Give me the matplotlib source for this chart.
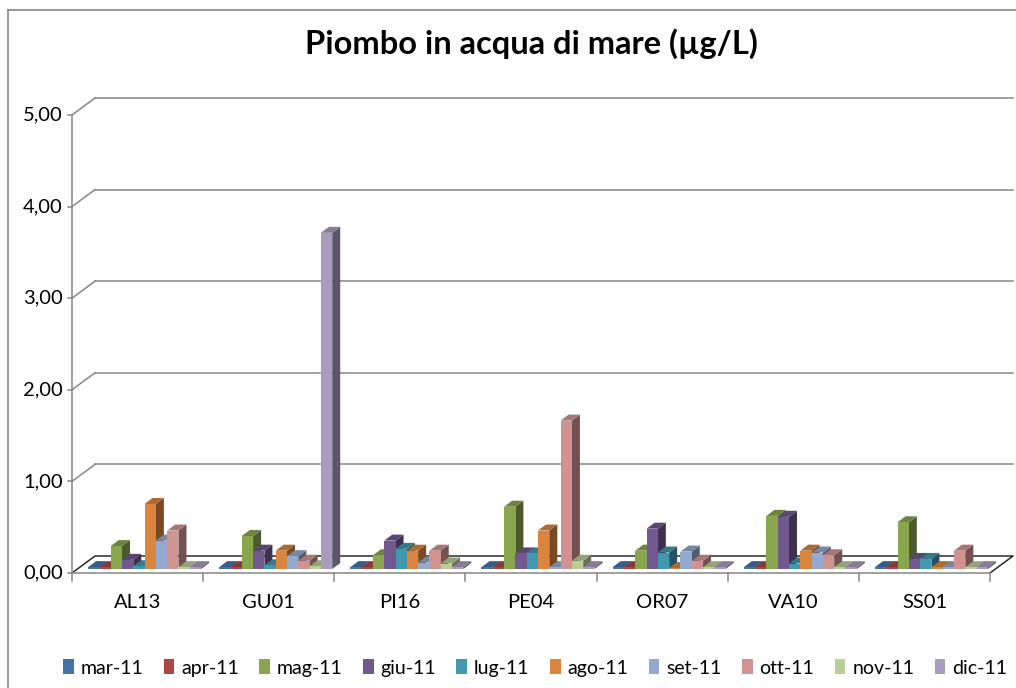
import matplotlib
matplotlib.use("Agg")
import matplotlib.pyplot as plt
from matplotlib.patches import Polygon, Patch
import numpy as np

plt.rcParams['font.family'] = ['Lato', 'DejaVu Sans']

# ---------------- data ----------------
stations = ['AL13', 'GU01', 'PI16', 'PE04', 'OR07', 'VA10', 'SS01']
months = ['mar-11', 'apr-11', 'mag-11', 'giu-11', 'lug-11',
          'ago-11', 'set-11', 'ott-11', 'nov-11', 'dic-11']
mar_11 = [0.02, 0.02, 0.02, 0.02, 0.02, 0.02, 0.02]
apr_11 = [0.02, 0.02, 0.02, 0.02, 0.02, 0.02, 0.02]
mag_11 = [0.25, 0.36, 0.15, 0.68, 0.20, 0.58, 0.51]
giu_11 = [0.10, 0.20, 0.31, 0.17, 0.44, 0.57, 0.11]
lug_11 = [0.03, 0.04, 0.22, 0.17, 0.18, 0.06, 0.11]
ago_11 = [0.71, 0.20, 0.20, 0.42, 0.01, 0.20, 0.02]
set_11 = [0.31, 0.14, 0.07, 0.02, 0.19, 0.18, 0.02]
ott_11 = [0.42, 0.09, 0.20, 1.62, 0.09, 0.15, 0.20]
nov_11 = [0.02, 0.03, 0.06, 0.09, 0.02, 0.02, 0.02]
dic_11 = [0.02, 3.67, 0.02, 0.02, 0.02, 0.02, 0.02]
series = [mar_11, apr_11, mag_11, giu_11, lug_11, ago_11, set_11, ott_11, nov_11, dic_11]
yticks = [0, 1, 2, 3, 4, 5]
ytick_labels = ['0,00', '1,00', '2,00', '3,00', '4,00', '5,00']
title = 'Piombo in acqua di mare (µg/L)'

colors = ['#4572A7', '#AA4643', '#89A54E', '#71588F', '#4198AF',
          '#DB843D', '#93A9CF', '#D19392', '#B9CD96', '#A99BBD']

# ---------------- layout ----------------
W, H = 1016, 688
fig = plt.figure(figsize=(W / 100, H / 100), dpi=100)
X0, X1 = 72, 990      # front x-axis extent (px)
Y0, Y5 = 573, 115     # y of value 0 and 5 at the front (px from top)
ax = fig.add_axes([X0 / W, 1 - Y0 / H, (X1 - X0) / W, (Y0 - Y5) / H])
ncat = len(stations)
ax.set_xlim(0, ncat)
ax.set_ylim(0, 5)
ax.axis('off')

ux = (X1 - X0) / ncat      # px per category
uy = (Y0 - Y5) / 5.0       # px per value unit


def off(x, y, dxp, dyp):
    return (x + dxp / ux, y + dyp / uy)


GRID = '#868686'
DARK = '#2a2a2a'
FDX, FDY = 23, 17       # floor / wall depth (px)

# chart border (left and top visible)
fig.add_artist(plt.Line2D([8 / W, 8 / W], [0, 1 - 10 / H], transform=fig.transFigure,
                          color=GRID, lw=1.2))
fig.add_artist(plt.Line2D([8 / W, 1], [1 - 10 / H, 1 - 10 / H], transform=fig.transFigure,
                          color=GRID, lw=1.2))

# back wall gridlines and side diagonals
for v in yticks[1:]:
    a = off(0, v, FDX, FDY)
    b = off(ncat, v, FDX, FDY)
    ax.plot([a[0], b[0]], [a[1], b[1]], color=GRID, lw=1.1, clip_on=False, zorder=1)
    ax.plot([0, a[0]], [v, a[1]], color=GRID, lw=1.1, clip_on=False, zorder=1)

# floor
fl = [(0, 0), (ncat, 0), off(ncat, 0, FDX, FDY), off(0, 0, FDX, FDY)]
ax.add_patch(Polygon(fl, closed=True, facecolor='white', edgecolor='none',
                     clip_on=False, zorder=2))
p0, p1 = off(0, 0, FDX, FDY), off(ncat, 0, FDX, FDY)
ax.plot([0, p0[0], p1[0], ncat], [0, p0[1], p1[1], 0], color=DARK, lw=1.1,
        clip_on=False, zorder=2)

# axes lines, ticks
ax.plot([0, 0], [0, 5], color=GRID, lw=1.1, clip_on=False, zorder=3)
ax.plot([0, ncat], [0, 0], color=GRID, lw=1.1, clip_on=False, zorder=3)
for v, lab in zip(yticks, ytick_labels):
    ax.plot([-4 / ux, 0], [v, v], color=GRID, lw=1.1, clip_on=False, zorder=3)
    ax.text(-9 / ux, v, lab, ha='right', va='center', fontsize=14.5, color='black')
for i in range(ncat + 1):
    ax.plot([i, i], [0, -8 / uy], color=GRID, lw=1.1, clip_on=False, zorder=3)
for i, s in enumerate(stations):
    ax.text(i + 0.5, -30 / uy, s, ha='center', va='center', fontsize=14.5, color='black')

# bars (pseudo 3D)
nser = len(series)
bw = 11.3 / ux
BIX, BIY = 7, 4     # inset of bars into floor (px)
BDX, BDY = 8, 6     # bar depth (px)


def shade(c, f):
    r, g, b = matplotlib.colors.to_rgb(c)
    return (r * f, g * f, b * f)


for i in range(ncat):
    for j, vals in enumerate(series):
        v = vals[i]
        xl = i + 0.5 - nser * bw / 2 + j * bw
        xr = xl + bw
        z = 10 + j * 0.1 + i
        A = off(xl, 0, BIX, BIY)
        B = off(xr, 0, BIX, BIY)
        C = off(xr, v, BIX, BIY)
        D = off(xl, v, BIX, BIY)
        front = [A, B, C, D]
        side = [B, off(B[0], B[1], BDX, BDY), off(C[0], C[1], BDX, BDY), C]
        top = [D, C, off(C[0], C[1], BDX, BDY), off(D[0], D[1], BDX, BDY)]
        ax.add_patch(Polygon(side, closed=True, facecolor=shade(colors[j], 0.55),
                             edgecolor='none', clip_on=False, zorder=z))
        ax.add_patch(Polygon(top, closed=True, facecolor=shade(colors[j], 0.8),
                             edgecolor='none', clip_on=False, zorder=z))
        ax.add_patch(Polygon(front, closed=True, facecolor=colors[j],
                             edgecolor='none', clip_on=False, zorder=z))

# title
fig.text(531 / W, 1 - 54 / H, title, ha='center', va='baseline',
         fontsize=23.5, fontweight='bold', color='black')

# legend
handles = [Patch(facecolor=c, edgecolor='none', label=m) for c, m in zip(colors, months)]
fig.legend(handles=handles, loc='center', bbox_to_anchor=(535 / W, 1 - 668 / H),
           ncol=len(months), frameon=False, fontsize=14, handlelength=0.55,
           handleheight=0.8, handletextpad=0.35, columnspacing=1.05)

fig.savefig('out.png', dpi=100)
